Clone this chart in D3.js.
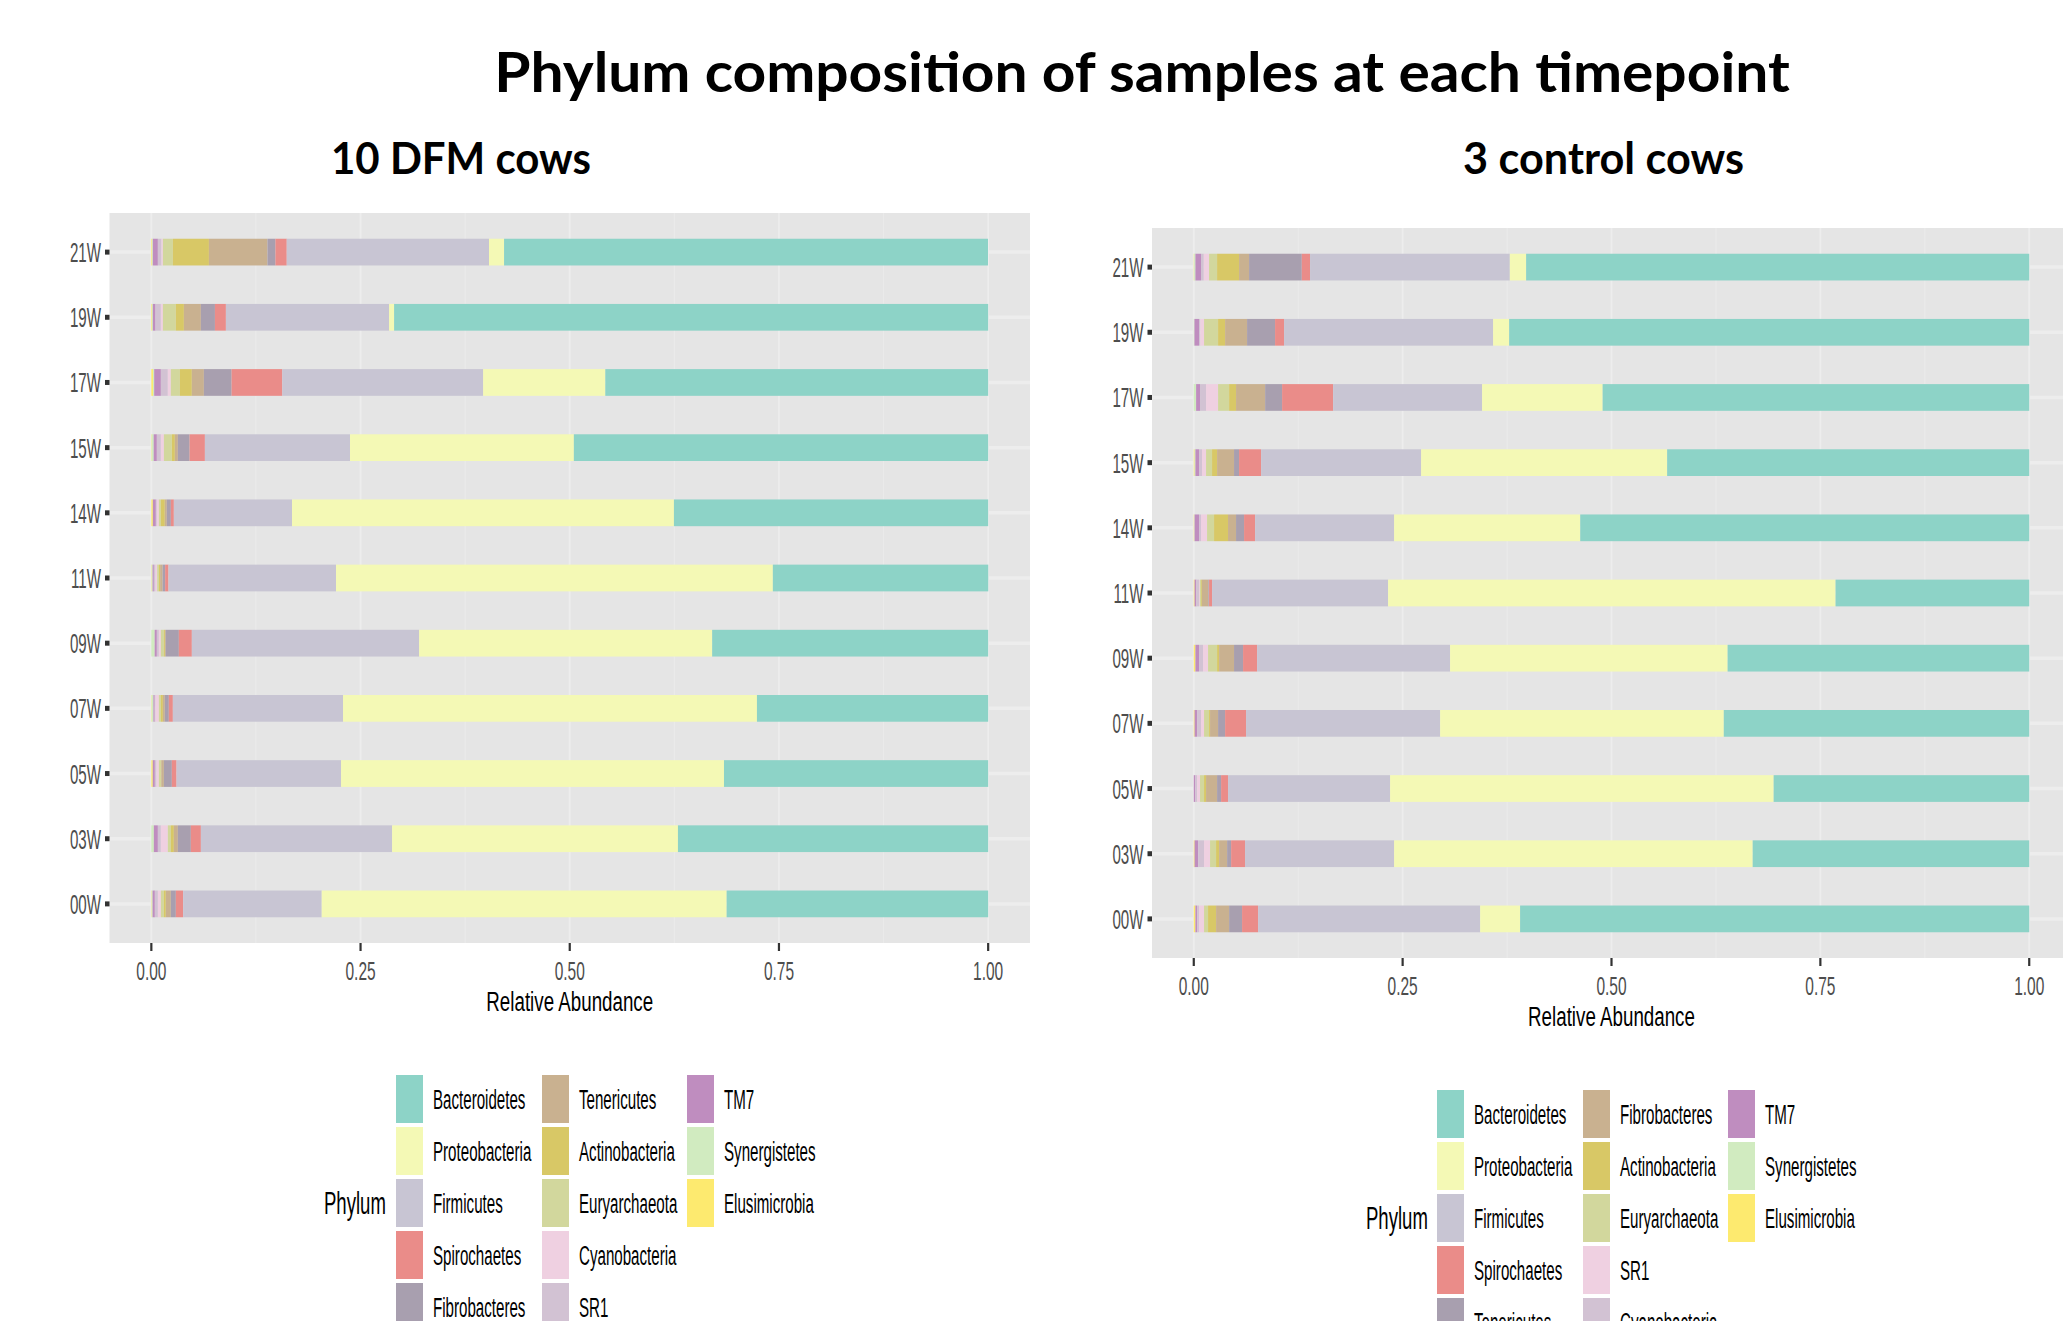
<!DOCTYPE html>
<html>
<head>
<meta charset="utf-8">
<script src="https://cdnjs.cloudflare.com/ajax/libs/d3/7.8.5/d3.min.js"></script>
<style>
  body { margin: 0; background: #fff; }
  svg text { font-family: "Liberation Sans", Arial, sans-serif; }
</style>
</head>
<body>
<div id="chart"></div>
<script>
// timepoints, top to bottom
var timepoints = ["21W", "19W", "17W", "15W", "14W", "11W", "09W", "07W", "05W", "03W", "00W"];

// legend order of each panel (ggplot fills by position, so colours follow this order)
var phylaDFM = ["Bacteroidetes", "Proteobacteria", "Firmicutes", "Spirochaetes", "Fibrobacteres",
  "Tenericutes", "Actinobacteria", "Euryarchaeota", "Cyanobacteria", "SR1", "TM7", "Synergistetes", "Elusimicrobia"];
var phylaControl = ["Bacteroidetes", "Proteobacteria", "Firmicutes", "Spirochaetes", "Tenericutes",
  "Fibrobacteres", "Actinobacteria", "Euryarchaeota", "SR1", "Cyanobacteria", "TM7", "Synergistetes", "Elusimicrobia"];
var phylumColors = ["#8DD3C7", "#F4F9B5", "#C8C5D3", "#EA8C89", "#A89FAF", "#C9B190", "#D8C866",
  "#D2D79D", "#EFD0E1", "#D2C2D3", "#BF8DBF", "#D1EBC0", "#FDEA6F"];

var xTicks = [0, 0.25, 0.5, 0.75, 1];
var xMinor = [0.125, 0.375, 0.625, 0.875];

// relative abundance, one row per timepoint, columns in phylaDFM order
var dfmValues = [
  [0.5783, 0.018, 0.2417, 0.0135, 0.0095, 0.070, 0.043, 0.012, 0.0016, 0.0044, 0.006, 0.0008, 0.001],
  [0.7099, 0.006, 0.195, 0.0131, 0.0168, 0.0203, 0.0096, 0.0155, 0.0024, 0.0064, 0.0032, 0.001, 0.0008],
  [0.4575, 0.146, 0.24, 0.0606, 0.0331, 0.0144, 0.0143, 0.0108, 0.0036, 0.0083, 0.008, 0.0014, 0.002],
  [0.4951, 0.2675, 0.1734, 0.0183, 0.014, 0.0036, 0.0036, 0.0095, 0.0036, 0.0048, 0.0038, 0.0023, 0.0005],
  [0.3755, 0.4564, 0.1412, 0.0036, 0.0048, 0.0024, 0.0047, 0.0024, 0.0024, 0.0012, 0.0036, 0, 0.0018],
  [0.2574, 0.522, 0.2002, 0.004, 0.003, 0.003, 0.0015, 0.002, 0.002, 0.002, 0.0015, 0.001, 0.0005],
  [0.3298, 0.3502, 0.2716, 0.0155, 0.0156, 0.0011, 0.0012, 0.0036, 0.0024, 0.0024, 0.0026, 0.004, 0],
  [0.2763, 0.4946, 0.2034, 0.0048, 0.0048, 0.0023, 0.0024, 0.0024, 0.004, 0.001, 0.0015, 0.002, 0.0005],
  [0.3157, 0.4576, 0.1966, 0.0056, 0.0095, 0.0031, 0.0005, 0.0024, 0.0028, 0.002, 0.0025, 0, 0.0017],
  [0.3707, 0.3416, 0.2285, 0.012, 0.0155, 0.0048, 0.0036, 0.0036, 0.0083, 0.0036, 0.0048, 0.003, 0],
  [0.3125, 0.4839, 0.1656, 0.0087, 0.006, 0.006, 0.0023, 0.0036, 0.0036, 0.0036, 0.0027, 0.001, 0.0005]
];

// columns in phylaControl order
var controlValues = [
  [0.6022, 0.0195, 0.2391, 0.0099, 0.0631, 0.012, 0.0263, 0.0096, 0.0063, 0.0033, 0.0067, 0.0015, 0.0005],
  [0.6225, 0.0192, 0.2502, 0.0108, 0.0335, 0.0263, 0.0084, 0.0168, 0.0044, 0.0016, 0.0055, 0.0008, 0],
  [0.5106, 0.1443, 0.1783, 0.0611, 0.0203, 0.0348, 0.0083, 0.0132, 0.0144, 0.0072, 0.0047, 0.0028, 0],
  [0.4334, 0.2945, 0.1915, 0.0264, 0.006, 0.0203, 0.006, 0.0072, 0.0048, 0.0036, 0.0043, 0.001, 0.001],
  [0.5374, 0.2228, 0.1664, 0.0132, 0.0096, 0.0096, 0.0167, 0.0084, 0.0072, 0.0024, 0.0053, 0.0005, 0.0005],
  [0.2318, 0.5356, 0.2107, 0.0036, 0.0008, 0.0078, 0.001, 0.0014, 0.001, 0.0032, 0.0021, 0, 0.001],
  [0.361, 0.3322, 0.231, 0.0168, 0.0108, 0.0179, 0.0024, 0.0108, 0.006, 0.0048, 0.0043, 0, 0.002],
  [0.3656, 0.3395, 0.2323, 0.0251, 0.0084, 0.0096, 0.0012, 0.006, 0.0036, 0.0047, 0.003, 0, 0.001],
  [0.3059, 0.4591, 0.194, 0.0083, 0.0048, 0.0132, 0.0024, 0.0048, 0.0035, 0.0022, 0.0018, 0, 0],
  [0.331, 0.4292, 0.1784, 0.0167, 0.0048, 0.0096, 0.0036, 0.0072, 0.0072, 0.0071, 0.0042, 0, 0.001],
  [0.6094, 0.0478, 0.2658, 0.0192, 0.0155, 0.0156, 0.0096, 0.0048, 0.006, 0.0023, 0.002, 0, 0.002]
];

var width = 2063, height = 1321;
var svg = d3.select("#chart").append("svg")
  .attr("width", width)
  .attr("height", height);

// the ggplot text in the picture is squeezed sideways
function squeezedText(g, x, y, txt, size, sx, anchor, color) {
  return g.append("text")
    .attr("transform", "translate(" + x + "," + y + ") scale(" + sx + ",1)")
    .attr("text-anchor", anchor)
    .style("font-size", size + "px")
    .style("fill", color)
    .text(txt);
}

function fittedTitle(x, y, txt, size, targetW, anchor) {
  var t = svg.append("text")
    .style("font-family", "Lato, 'Open Sans', sans-serif")
    .style("font-weight", "bold")
    .style("font-size", size + "px")
    .attr("text-anchor", anchor)
    .text(txt);
  var w = t.node().getComputedTextLength();
  t.attr("transform", "translate(" + x + "," + y + ") scale(" + (targetW / w) + ",1)");
}

fittedTitle(1142, 92, "Phylum composition of samples at each timepoint", 56, 1296, "middle");
fittedTitle(331, 174, "10 DFM cows", 43, 260, "start");
fittedTitle(1463, 174, "3 control cows", 43, 281, "start");

function drawPanel(cfg) {
  var g = svg.append("g");

  var x = d3.scaleLinear().domain([-0.05, 1.05]).range([cfg.left, cfg.right]);
  var y = d3.scalePoint().domain(timepoints).range([cfg.top, cfg.bottom]).padding(0.6);
  var barH = y.step() * 0.41;

  // panel background + grid
  g.append("rect")
    .attr("x", cfg.left).attr("y", cfg.top)
    .attr("width", cfg.right - cfg.left).attr("height", cfg.bottom - cfg.top)
    .attr("fill", "#E5E5E5");

  g.selectAll(".minor").data(xMinor).enter().append("line")
    .attr("x1", d => x(d)).attr("x2", d => x(d))
    .attr("y1", cfg.top).attr("y2", cfg.bottom)
    .attr("stroke", "#EBEBEB").attr("stroke-width", 1);
  g.selectAll(".major").data(xTicks).enter().append("line")
    .attr("x1", d => x(d)).attr("x2", d => x(d))
    .attr("y1", cfg.top).attr("y2", cfg.bottom)
    .attr("stroke", "#EDEDED").attr("stroke-width", 1.8);
  g.selectAll(".hgrid").data(timepoints).enter().append("line")
    .attr("x1", cfg.left).attr("x2", cfg.right)
    .attr("y1", d => y(d)).attr("y2", d => y(d))
    .attr("stroke", "#EDEDED").attr("stroke-width", 3.5);

  // stacked bars, last legend entry sits at 0
  var rows = timepoints.map(function(tp, i) {
    var r = { tp: tp };
    cfg.phyla.forEach(function(p, j) { r[p] = cfg.values[i][j]; });
    return r;
  });
  var color = d3.scaleOrdinal().domain(cfg.phyla).range(phylumColors);
  var series = d3.stack().keys(cfg.phyla.slice().reverse())(rows);

  g.selectAll(".layer").data(series).enter().append("g")
    .attr("fill", d => color(d.key))
    .selectAll("rect").data(d => d).enter().append("rect")
    .attr("x", d => x(d[0]))
    .attr("width", d => Math.max(0, x(d[1]) - x(d[0])))
    .attr("y", d => y(d.data.tp) - barH / 2)
    .attr("height", barH);

  // y axis
  g.selectAll(".ytick").data(timepoints).enter().append("line")
    .attr("x1", cfg.left - 4.5).attr("x2", cfg.left)
    .attr("y1", d => y(d)).attr("y2", d => y(d))
    .attr("stroke", "#333").attr("stroke-width", 5);
  timepoints.forEach(function(tp) {
    squeezedText(g, cfg.left - 8.5, y(tp) + 10, tp, 28, 0.54, "end", "#4D4D4D");
  });

  // x axis
  g.selectAll(".xtick").data(xTicks).enter().append("line")
    .attr("x1", d => x(d)).attr("x2", d => x(d))
    .attr("y1", cfg.bottom).attr("y2", cfg.bottom + 8)
    .attr("stroke", "#333").attr("stroke-width", 2.2);
  xTicks.forEach(function(t) {
    squeezedText(g, x(t), cfg.bottom + 37, d3.format(".2f")(t), 25, 0.62, "middle", "#4D4D4D");
  });
  squeezedText(g, x(0.5), cfg.bottom + 68, "Relative Abundance", 28, 0.67, "middle", "#000");

  // legend, 5 rows, filled column by column
  var leg = svg.append("g");
  var step = 52;
  cfg.phyla.forEach(function(p, i) {
    var col = Math.floor(i / 5), row = i % 5;
    var kx = cfg.legendCols[col], ky = cfg.legendTop + row * step;
    leg.append("rect")
      .attr("x", kx).attr("y", ky)
      .attr("width", 27).attr("height", 48)
      .attr("fill", color(p));
    squeezedText(leg, kx + 37, ky + 34, p, 27, 0.56, "start", "#000");
  });
  squeezedText(leg, cfg.legendTitleX, cfg.legendTop + 2 * step + 35, "Phylum", 32, 0.58, "start", "#000");
}

drawPanel({
  left: 109.5, right: 1030, top: 213, bottom: 943,
  phyla: phylaDFM, values: dfmValues,
  legendTop: 1075, legendCols: [396, 542, 687], legendTitleX: 324
});

drawPanel({
  left: 1152, right: 2071, top: 228, bottom: 958,
  phyla: phylaControl, values: controlValues,
  legendTop: 1090, legendCols: [1437, 1583, 1728], legendTitleX: 1366
});
</script>
</body>
</html>
